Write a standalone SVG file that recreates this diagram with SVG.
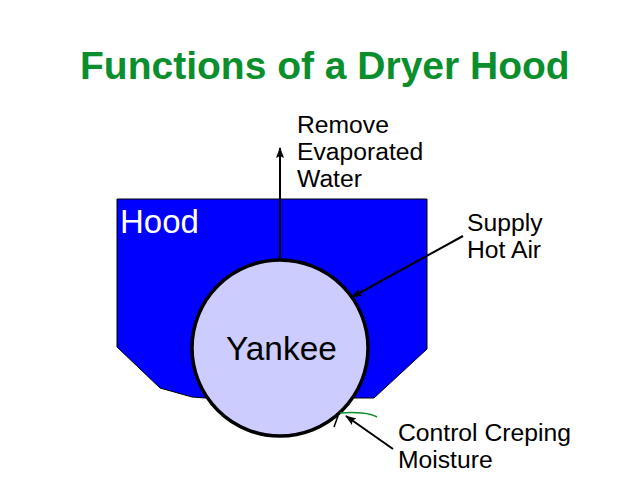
<svg xmlns="http://www.w3.org/2000/svg" width="638" height="479" viewBox="0 0 638 479">
<style>
text{font-family:"Liberation Sans",Arial,sans-serif;fill:#000}
.l{font-size:24.7px}
.c{fill:none;stroke:#000;stroke-width:2}
</style>
<defs><marker id="a" markerWidth="12" markerHeight="10" refX="10" refY="4" orient="auto" markerUnits="userSpaceOnUse"><path d="M0 0L11 4L0 8L2 4Z" fill="#000"/></marker></defs>
<rect width="638" height="479" fill="#fff"/>
<text id="title" x="80" y="79" font-weight="bold" style="fill:#0a8f2c;font-size:39px">Functions of a Dryer Hood</text>
<g id="hood"><path d="M117 199H427V349L374 398H205L192 397L160 388L117 347Z" fill="#0000ff" stroke="#000" stroke-width="1"/><text x="120" y="233" style="font-size:33px;fill:#fff">Hood</text></g>
<g id="yankee"><circle cx="280" cy="348" r="88" fill="#ccccff" stroke="#000" stroke-width="3.5"/><text x="226" y="360" style="font-size:33.4px">Yankee</text></g>
<g id="connectors">
<path class="c" d="M280 260V148" marker-end="url(#a)"/>
<path class="c" d="M463 236L352 297" marker-end="url(#a)"/>
<path class="c" d="M393 449L346 416" marker-end="url(#a)"/>
<path d="M340 413Q352 412 362 413Q372 414 377 417" fill="none" stroke="#0a8f2c" stroke-width="1.5"/>
<path d="M338 416L334 427" fill="none" stroke="#000" stroke-width="1.5"/>
</g>
<g id="label-water"><text class="l" x="297" y="133">Remove</text><text class="l" x="297" y="160">Evaporated</text><text class="l" x="297" y="187">Water</text></g>
<g id="label-air"><text class="l" x="467" y="231">Supply</text><text class="l" x="467" y="258">Hot Air</text></g>
<g id="label-moisture"><text class="l" x="398" y="441">Control Creping</text><text class="l" x="398" y="468">Moisture</text></g>
</svg>
